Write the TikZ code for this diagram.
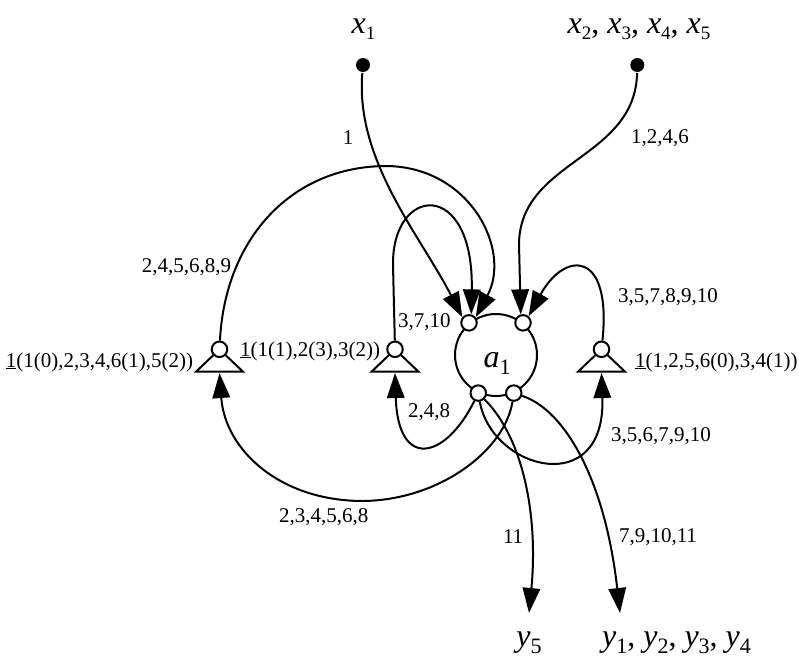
\documentclass[tikz,border=0pt]{standalone}
\usepackage{fontspec}
\setmainfont{Liberation Serif}
\usetikzlibrary{arrows.meta}
\newcommand{\mylab}{\fontsize{21}{21}\selectfont}
\newcommand{\bigit}{\fontsize{32}{32}\selectfont\itshape}
\newcommand{\sbx}[2]{#1\raisebox{-6pt}{\fontsize{19}{19}\selectfont\upshape #2}}
\newcommand{\sby}[2]{#1\raisebox{-7pt}{\fontsize{22}{22}\selectfont\upshape #2}}
\begin{document}
\begin{tikzpicture}[x=1pt,y=-1pt,line width=2pt,
  port/.style={circle,draw,fill=white,inner sep=0pt,minimum size=15.5pt},
  indot/.style={circle,fill,inner sep=0pt,minimum size=14pt},
  arr/.style={-{Triangle[length=25pt,width=17.5pt]}},
  lab/.style={font=\mylab,inner sep=0pt},
  tri/.style={draw,fill=white,line join=miter}]
\useasboundingbox (0,0) rectangle (799,659);

% main element
\node[circle,draw,minimum size=82pt,inner sep=0pt] (a) at (496,355) {};
\node[anchor=base,inner sep=0pt] (alab) at (497,367) {\bigit\sby{a}{1}};
\node[port] (tl) at (a.130) {};
\node[port] (tr) at (a.50) {};
\node[port] (bl) at (a.245) {};
\node[port] (br) at (a.295) {};

% triangles
\draw[tri] (196,371.7) -- (219.5,349.3) -- (243,371.7) -- cycle;
\node[port] (lp) at (219.5,349.3) {};
\coordinate (lb) at (219.5,373);
\draw[tri] (371.5,371.7) -- (395,349.3) -- (418.5,371.7) -- cycle;
\node[port] (mp) at (395,349.3) {};
\coordinate (mb) at (395,373);
\draw[tri] (578,371.7) -- (601.5,349.3) -- (625,371.7) -- cycle;
\node[port] (rp) at (601.5,349.3) {};
\coordinate (rb) at (601.5,373);

% inputs / outputs
\node[indot] (x1d) at (363,65) {};
\node[indot] (x2d) at (637.3,65) {};
\node[anchor=base,inner sep=0pt] (x1) at (363.5,33) {\bigit\sbx{x}{1}};
\node[anchor=base,inner sep=0pt] (x2) at (639,33) {\bigit\sbx{x}{2}{\upshape,} \sbx{x}{3}{\upshape,} \sbx{x}{4}{\upshape,} \sbx{x}{5}};
\node[anchor=base,inner sep=0pt] (y5) at (529,646.7) {\bigit\sby{y}{5}};
\node[anchor=base,inner sep=0pt] (y14) at (676.5,646.7) {\bigit\sby{y}{1}{\upshape,} \sby{y}{2}{\upshape,} \sby{y}{3}{\upshape,} \sby{y}{4}};
\coordinate (y5a) at (529,613);
\coordinate (y14a) at (620,613);

% connectors
\draw[arr] (x1d) .. controls (355,160) and (420,235) .. (tl.140);
\draw[arr] (x2d) .. controls (635,160) and (519,160) .. (519,245) -- (tr.105);
\draw[arr] (lp) .. controls (225,240) and (290,167) .. (385,166) .. controls (470,166) and (512,250) .. (tl.40);
\draw[arr] (mp) -- (393,265) .. controls (392,185) and (474,178) .. (tl.75);
\draw[arr] (rp) .. controls (612,250) and (565,250) .. (tr.50);
\draw[arr] (bl) .. controls (445,460) and (398,470) .. (mb);
\draw[arr] (br) .. controls (505,450) and (440,500) .. (363,501) .. controls (280,501) and (225,450) .. (lb);
\draw[arr] (bl) .. controls (492,470) and (606,500) .. (rb);
\draw[arr] (bl) .. controls (525,440) and (538,520) .. (y5a);
\draw[arr] (br) .. controls (565,410) and (605,480) .. (y14a);

% labels
\node[lab] (l1) at (348,138) {1};
\node[lab,anchor=west] (l2) at (630,138) {1,2,4,6};
\node[lab,anchor=east] (l3) at (232,267) {2,4,5,6,8,9};
\node[lab,anchor=west] (l4) at (397,322) {3,7,10};
\node[lab,anchor=west] (l5) at (617,297) {3,5,7,8,9,10};
\node[lab,anchor=west] (l6) at (407,412) {2,4,8};
\node[lab,anchor=west] (l7) at (610,436) {3,5,6,7,9,10};
\node[lab,anchor=west] (l8) at (278,517) {2,3,4,5,6,8};
\node[lab,anchor=west] (l9) at (502,537) {11};
\node[lab,anchor=west] (l10) at (618,537) {7,9,10,11};
\node[lab,anchor=east] (t1) at (194,362) {\underline{1}(1(0),2,3,4,6(1),5(2))};
\node[lab,anchor=east] (t2) at (381,351) {\underline{1}(1(1),2(3),3(2))};
\node[lab,anchor=west] (t3) at (634,362) {\underline{1}(1,2,5,6(0),3,4(1))};
\end{tikzpicture}
\end{document}
